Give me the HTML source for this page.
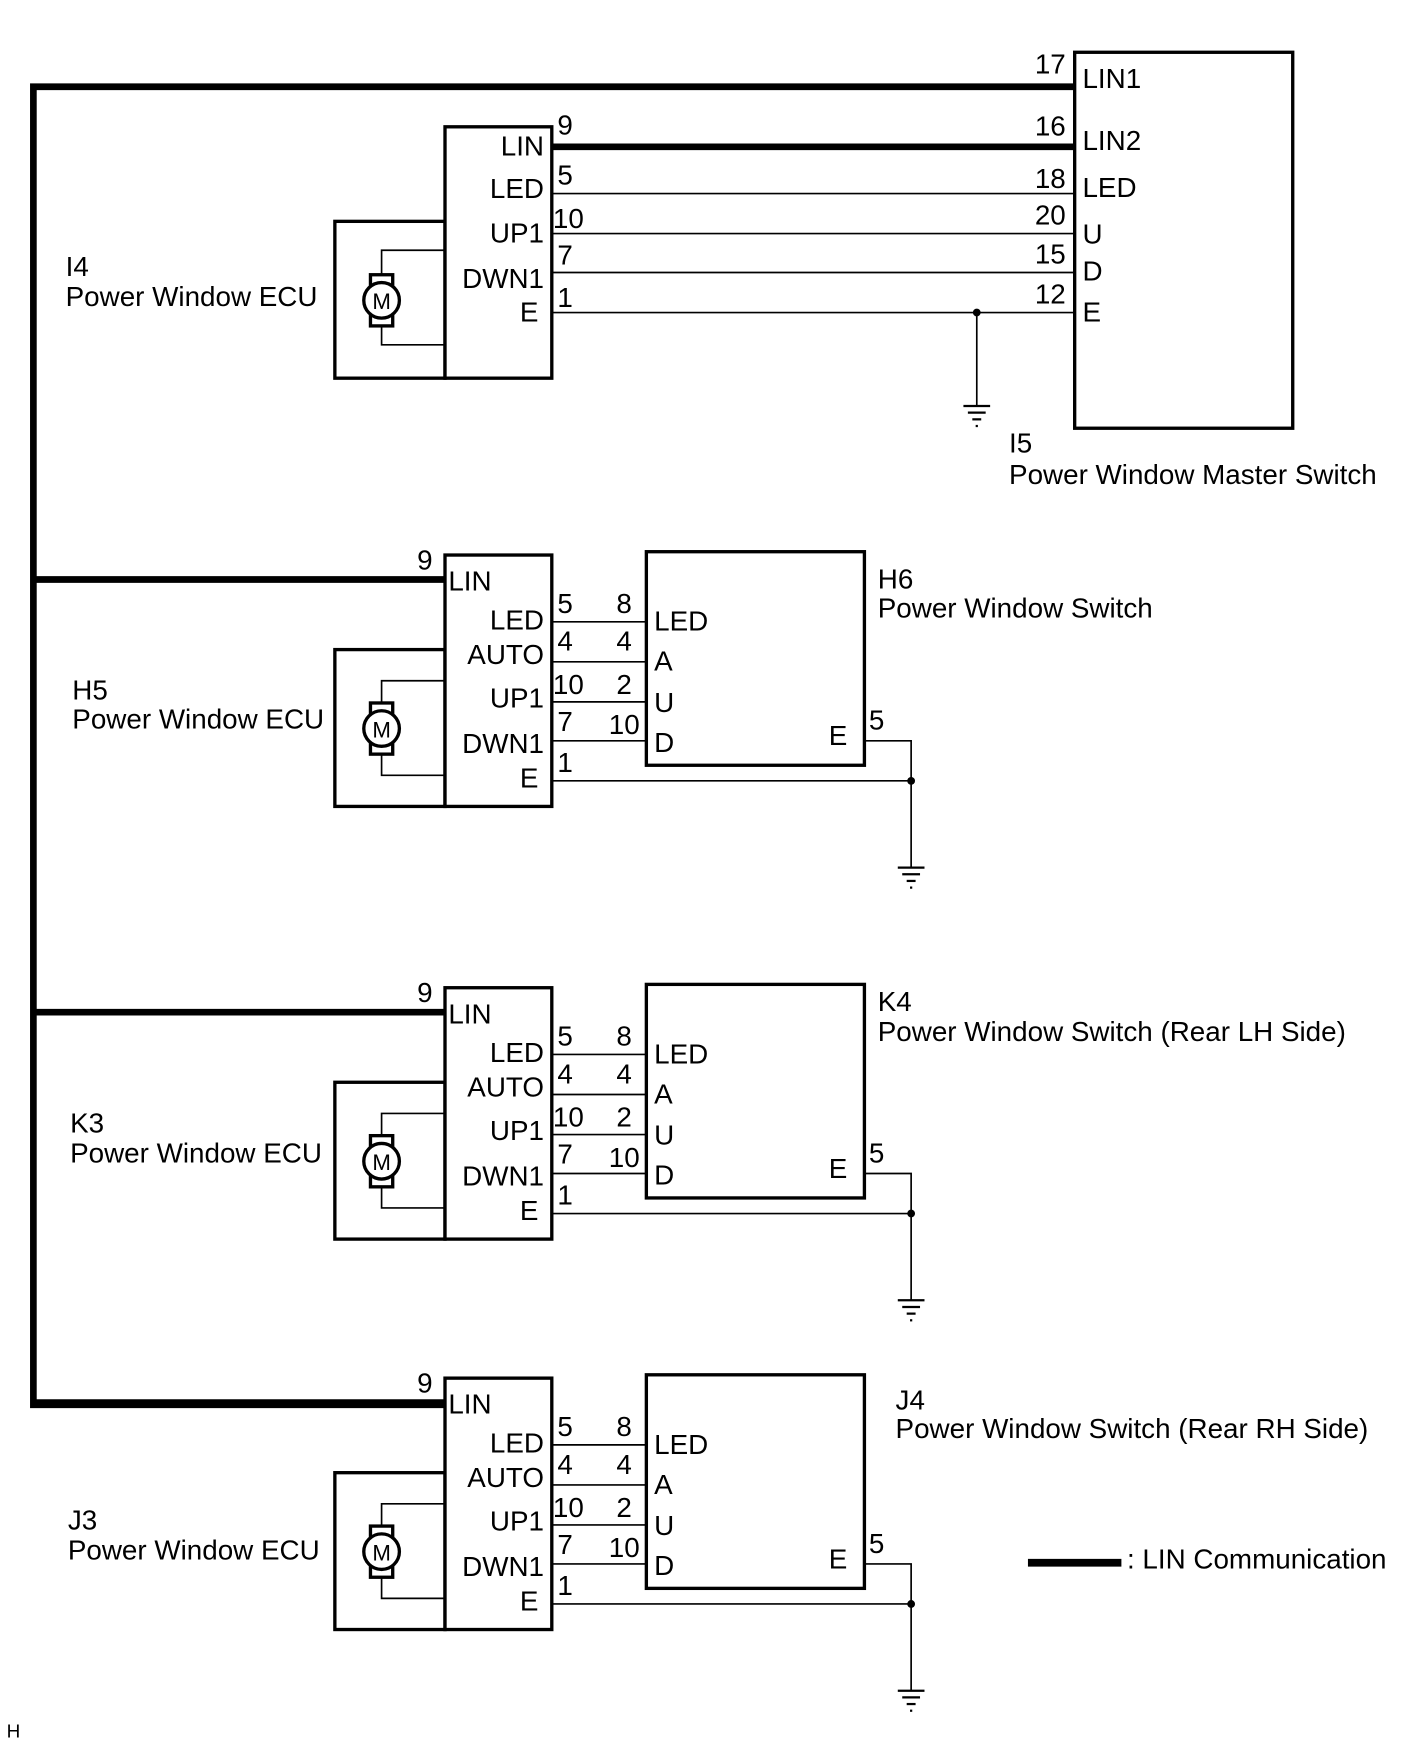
<!DOCTYPE html>
<html><head><meta charset="utf-8"><style>
html,body{margin:0;padding:0;background:#fff;}
svg{display:block;}
text{font-family:"Liberation Sans",Arial,sans-serif;font-size:25px;fill:#000;}
.r{text-anchor:end;}
</style></head><body>
<svg width="1424" height="1763" viewBox="0 0 1280 1585" preserveAspectRatio="none" xmlns="http://www.w3.org/2000/svg">
<defs>
<g id="motor">
 <rect x="-10" y="-23" width="20" height="46" fill="#fff" stroke="#000" stroke-width="3"/>
 <circle cx="0" cy="0" r="16" fill="#fff" stroke="#000" stroke-width="3"/>
 <text x="0" y="8" text-anchor="middle" style="font-size:20px">M</text>
</g>
<g id="gnd" stroke="#000" stroke-width="2">
 <line x1="-12" y1="0" x2="12" y2="0"/>
 <line x1="-8" y1="6" x2="8" y2="6"/>
 <line x1="-4" y1="12" x2="4" y2="12"/>
 <line x1="-1" y1="18" x2="1" y2="18"/>
</g>
<g id="grp">
 <rect x="301" y="584" width="99" height="141" fill="none" stroke="#000" stroke-width="3"/>
 <rect x="400" y="499" width="96" height="226" fill="#fff" stroke="#000" stroke-width="3"/>
 <polyline points="400,612 343,612 343,632" fill="none" stroke="#000" stroke-width="1.5"/>
 <polyline points="400,697 343,697 343,678" fill="none" stroke="#000" stroke-width="1.5"/>
 <use href="#motor" x="343" y="655"/>
 <line x1="30" y1="521" x2="400" y2="521" stroke="#000" stroke-width="6"/>
 <text x="375" y="512">9</text>
 <text x="403" y="531">LIN</text>
 <text class="r" x="489" y="566">LED</text>
 <text class="r" x="489" y="597">AUTO</text>
 <text class="r" x="489" y="636">UP1</text>
 <text class="r" x="489" y="677">DWN1</text>
 <text class="r" x="484" y="708">E</text>
 <rect x="581" y="496" width="196" height="192" fill="none" stroke="#000" stroke-width="3"/>
 <g stroke="#000" stroke-width="1.5">
  <line x1="496" y1="559" x2="581" y2="559"/>
  <line x1="496" y1="595" x2="581" y2="595"/>
  <line x1="496" y1="631" x2="581" y2="631"/>
  <line x1="496" y1="666" x2="581" y2="666"/>
  <line x1="496" y1="702" x2="819" y2="702"/>
  <polyline points="777,666 819,666 819,780" fill="none"/>
 </g>
 <circle cx="819" cy="702" r="3.5"/>
 <use href="#gnd" x="819" y="780"/>
 <text x="501" y="551">5</text><text x="501" y="585">4</text><text x="497" y="624">10</text><text x="501" y="657">7</text><text x="501" y="694">1</text>
 <text class="r" x="568" y="551">8</text><text class="r" x="568" y="585">4</text><text class="r" x="568" y="624">2</text><text class="r" x="575" y="660">10</text>
 <text x="588" y="567">LED</text><text x="588" y="603">A</text><text x="588" y="640">U</text><text x="588" y="676">D</text>
 <text x="745" y="670">E</text><text x="781" y="656">5</text>
</g>
</defs>

<polyline points="966,78 30,78 30,1263 400,1263" fill="none" stroke="#000" stroke-width="6"/>

<rect x="966" y="47" width="196" height="338" fill="none" stroke="#000" stroke-width="3"/>
<rect x="301" y="199" width="99" height="141" fill="none" stroke="#000" stroke-width="3"/>
<rect x="400" y="114" width="96" height="226" fill="#fff" stroke="#000" stroke-width="3"/>
<polyline points="400,225 343,225 343,247" fill="none" stroke="#000" stroke-width="1.5"/>
<polyline points="400,310 343,310 343,293" fill="none" stroke="#000" stroke-width="1.5"/>
<use href="#motor" x="343" y="270"/>
<line x1="496" y1="132" x2="966" y2="132" stroke="#000" stroke-width="6"/>
<g stroke="#000" stroke-width="1.5">
 <line x1="496" y1="174" x2="966" y2="174"/>
 <line x1="496" y1="210" x2="966" y2="210"/>
 <line x1="496" y1="245" x2="966" y2="245"/>
 <line x1="496" y1="281" x2="966" y2="281"/>
 <line x1="878" y1="281" x2="878" y2="365"/>
</g>
<circle cx="878" cy="281" r="3.5"/>
<use href="#gnd" x="878" y="365"/>
<text class="r" x="489" y="140">LIN</text>
<text class="r" x="489" y="178">LED</text>
<text class="r" x="489" y="218">UP1</text>
<text class="r" x="489" y="259">DWN1</text>
<text class="r" x="484" y="289">E</text>
<text x="501" y="121">9</text><text x="501" y="166">5</text><text x="497" y="205">10</text><text x="501" y="238">7</text><text x="501" y="276">1</text>
<text class="r" x="958" y="66">17</text><text class="r" x="958" y="122">16</text><text class="r" x="958" y="169">18</text><text class="r" x="958" y="202">20</text><text class="r" x="958" y="237">15</text><text class="r" x="958" y="273">12</text>
<text x="973" y="79">LIN1</text><text x="973" y="135">LIN2</text><text x="973" y="177">LED</text><text x="973" y="219">U</text><text x="973" y="252">D</text><text x="973" y="289">E</text>
<text x="59" y="248">I4</text><text x="59" y="275">Power Window ECU</text>
<text x="907" y="407">I5</text><text x="907" y="435">Power Window Master Switch</text>

<use href="#grp"/>
<text x="65" y="629">H5</text><text x="65" y="655">Power Window ECU</text>
<text x="789" y="529">H6</text><text x="789" y="555">Power Window Switch</text>

<use href="#grp" y="389"/>
<text x="63" y="1018">K3</text><text x="63" y="1045">Power Window ECU</text>
<text x="789" y="909">K4</text><text x="789" y="936">Power Window Switch (Rear LH Side)</text>

<use href="#grp" y="740"/>
<text x="61" y="1375">J3</text><text x="61" y="1402">Power Window ECU</text>
<text x="805" y="1267">J4</text><text x="805" y="1293">Power Window Switch (Rear RH Side)</text>

<line x1="924" y1="1405" x2="1008" y2="1405" stroke="#000" stroke-width="7"/>
<text x="1013" y="1410">: LIN Communication</text>
<text x="6" y="1562" style="font-size:17px">H</text>
</svg>
</body></html>
